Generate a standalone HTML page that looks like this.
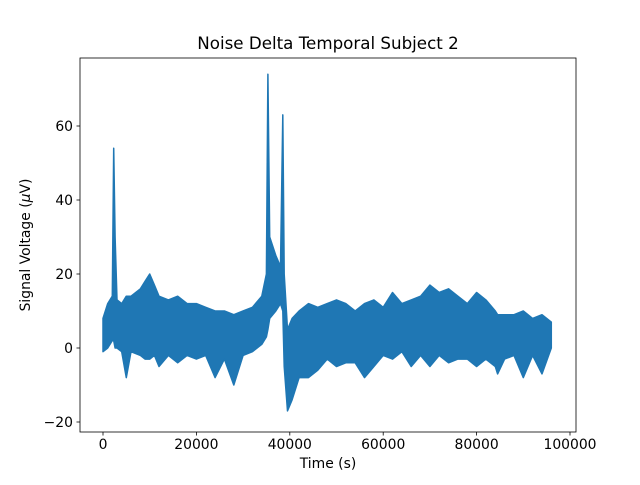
<!DOCTYPE html>
<html><head><meta charset="utf-8"><style>
body{margin:0;background:#fff}
svg text{font-family:"DejaVu Sans","Liberation Sans",sans-serif;fill:#000}
</style></head><body>
<svg id="chart" width="640" height="480" xmlns="http://www.w3.org/2000/svg">
<rect x="0" y="0" width="640" height="480" fill="#fff"/>
<text x="328" y="49" font-size="16.7" text-anchor="middle">Noise Delta Temporal Subject 2</text>
<g id="plot"></g>
<rect x="80" y="58" width="496" height="374" fill="none" stroke="#000" stroke-width="0.8"/>
<text x="328" y="468" font-size="13.9" text-anchor="middle">Time (s)</text>
<text x="0" y="0" font-size="13.9" text-anchor="middle" transform="translate(30,245) rotate(-90)">Signal Voltage (<tspan font-style="italic">μ</tspan>V)</text>
</svg>
<script>
const times=[0,1000,2000,2300,2600,3000,4000,5000,6000,8000,9000,10000,11000,12000,14000,16000,18000,20000,22000,24000,26000,28000,30000,32000,34000,35000,35300,35700,37000,38000,38500,38800,39500,40500,42000,44000,46000,48000,50000,52000,54000,56000,58000,60000,62000,64000,66000,68000,70000,72000,74000,76000,78000,80000,82000,84000,84500,86000,88000,90000,92000,94000,96000];
const maxVals=[8,12,14,54,30,13,12,14,14,16,18,20,17,14,13,14,12,12,11,10,10,9,10,11,14,20,74,30,25,22,63,20,5,8,10,12,11,12,13,12,10,12,13,11,15,12,13,14,17,15,16,14,12,15,13,10,9,9,9,10,8,9,7];
const minVals=[-1,0,2,2,0,0,-1,-8,-1,-2,-3,-3,-2,-5,-2,-4,-2,-3,-2,-8,-3,-10,-2,-1,1,3,5,8,10,12,10,-5,-17,-14,-8,-8,-6,-3,-5,-4,-4,-8,-5,-2,-3,-1,-5,-2,-5,-2,-4,-3,-3,-5,-3,-5,-7,-3,-2,-8,-2,-7,0];
const xTicks=[0,20000,40000,60000,80000,100000];
const yTicks=[-20,0,20,40,60];
const xs=v=>103+v*(467/100000);
const ys=v=>348-v*3.7;
const NS="http://www.w3.org/2000/svg";
const g=document.getElementById('plot');
let d="M"+times.map((t,i)=>xs(t).toFixed(1)+","+ys(maxVals[i]).toFixed(1)).join(" L");
for(let i=times.length-1;i>=0;i--)d+=" L"+xs(times[i]).toFixed(1)+","+ys(minVals[i]).toFixed(1);
d+=" Z";
const p=document.createElementNS(NS,'path');


p.setAttribute('d',d);p.setAttribute('fill','#1f77b4');p.setAttribute('stroke','#1f77b4');p.setAttribute('stroke-width','1.5');p.setAttribute('stroke-linejoin','round');
g.appendChild(p);
xTicks.forEach(t=>{
 const l=document.createElementNS(NS,'line');
 
 
 l.setAttribute('x1',xs(t));l.setAttribute('x2',xs(t));l.setAttribute('y1',432);l.setAttribute('y2',435.5);l.setAttribute('stroke','#000');l.setAttribute('stroke-width','0.8');
 g.appendChild(l);
 const tx=document.createElementNS(NS,'text');
 
 
 tx.setAttribute('x',xs(t));tx.setAttribute('y',449);tx.setAttribute('font-size','13.9');tx.setAttribute('text-anchor','middle');
 tx.textContent=t;g.appendChild(tx);
});
yTicks.forEach(t=>{
 const l=document.createElementNS(NS,'line');
 
 
 l.setAttribute('x1',76.5);l.setAttribute('x2',80);l.setAttribute('y1',ys(t));l.setAttribute('y2',ys(t));l.setAttribute('stroke','#000');l.setAttribute('stroke-width','0.8');
 g.appendChild(l);
 const tx=document.createElementNS(NS,'text');
 
 
 tx.setAttribute('x',73);tx.setAttribute('y',ys(t)+5);tx.setAttribute('font-size','13.9');tx.setAttribute('text-anchor','end');
 tx.textContent=t<0?'\u2212'+Math.abs(t):t;g.appendChild(tx);
});
</script>
</body></html>
